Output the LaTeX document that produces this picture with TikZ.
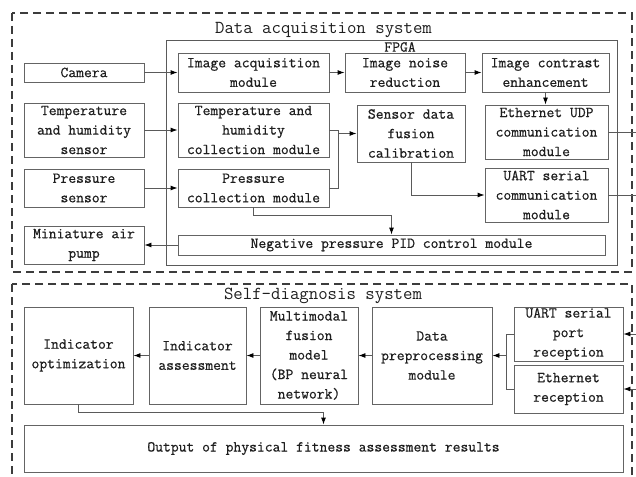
\documentclass[tikz,border=0pt]{standalone}
\usepackage{fontspec}
\usepackage{tikz}
\usepackage{xcolor}
\usetikzlibrary{arrows.meta, positioning, calc}
\newfontfamily\diagfont[FakeBold=0.6]{Latin Modern Mono}
\newfontfamily\titlefont{Latin Modern Mono}
\definecolor{frameGray}{RGB}{100,100,100}
\definecolor{lineGray}{RGB}{90,90,90}
\definecolor{dashGray}{RGB}{60,60,60}
\definecolor{darkText}{RGB}{30,30,30}
\tikzset{
    modbox/.style={
        rectangle,
        draw=frameGray,
        line width=0.9pt,
        align=center,
        inner sep=0pt,
        text=darkText,
        font=\diagfont\fontsize{15.2}{19.5}\selectfont
    },
    sysframe/.style={draw=dashGray, line width=1.1pt, dash pattern=on 8pt off 5pt},
    flowarrow/.style={-{Latex[length=7pt,width=5pt,color=black]}, line width=0.9pt, draw=lineGray},
    plainline/.style={line width=0.9pt, draw=lineGray},
    systitle/.style={text=darkText, font=\titlefont\fontsize{18.3}{20}\selectfont}
}

\begin{document}
\begin{tikzpicture}[x=1pt,y=-1pt]
    \useasboundingbox (0,0) rectangle (636,476);
    \fill[white] (0,0) rectangle (636,476);

    % data acquisition part
    \draw[sysframe] (12,13) rectangle (632,272);
    \node[systitle] (acqtitle) at (323.5,29.5) {Data acquisition system};
    \draw[plainline] (166,40) rectangle (617,265);
    \node[modbox, draw=none, fill=none] (fpga) at (400,47) {FPGA};

    \node[modbox, minimum width=120, minimum height=19] (camera) at (84,72.5) {Camera};
    \node[modbox, minimum width=120, minimum height=54] (thsensor) at (84,130) {Temperature\\and humidity\\sensor};
    \node[modbox, minimum width=120, minimum height=38] (psensor) at (84,188) {Pressure\\sensor};
    \node[modbox, minimum width=120, minimum height=38] (pump) at (84,245) {Miniature air\\pump};

    \node[modbox, minimum width=151, minimum height=39] (imgacq) at (253.5,72.5) {Image acquisition\\module};
    \node[modbox, minimum width=151, minimum height=54] (thcoll) at (253.5,130) {Temperature and\\humidity\\collection module};
    \node[modbox, minimum width=151, minimum height=38] (pcoll) at (253.5,188) {Pressure\\collection module};
    \node[modbox, minimum width=427, minimum height=20] (pid) at (391.5,245) {Negative pressure PID control module};

    \node[modbox, minimum width=120, minimum height=39] (noise) at (405,72.5) {Image noise\\reduction};
    \node[modbox, minimum width=108, minimum height=57] (fusion) at (411,133.5) {Sensor data\\fusion\\calibration};

    \node[modbox, minimum width=127, minimum height=39] (contrast) at (545.5,72.5) {Image contrast\\enhancement};
    \node[modbox, minimum width=123, minimum height=54] (udp) at (546.5,132) {Ethernet UDP\\communication\\module};
    \node[modbox, minimum width=123, minimum height=54] (uart) at (546.5,195) {UART serial\\communication\\module};

    \coordinate (rim) at (636,0);
    \coordinate (join) at (338,0);

    \draw[flowarrow] (camera.east) -- (camera.east -| imgacq.west);
    \draw[flowarrow] (thsensor.east) -- (thsensor.east -| thcoll.west);
    \draw[flowarrow] (psensor.east) -- (psensor.east -| pcoll.west);
    \draw[flowarrow] (pid.west) -- (pid.west -| pump.east);
    \draw[flowarrow] (imgacq.east) -- (imgacq.east -| noise.west);
    \draw[flowarrow] (noise.east) -- (noise.east -| contrast.west);
    \draw[flowarrow] (contrast.south) -- (contrast.south |- udp.north);
    \draw[plainline] (thcoll.east) -- (thcoll.east -| join) -- (pcoll.east -| join) -- (pcoll.east);
    \draw[flowarrow] (fusion.west -| join) -- (fusion.west);
    \draw[flowarrow] (fusion.south) |- (uart.west);
    \draw[flowarrow] (pcoll.south) -- ++(0,8) -| (pid.north);
    \draw[plainline] (udp.east) -- (udp.east -| rim);
    \draw[plainline] (uart.east) -- (uart.east -| rim);

    % self-diagnosis part
    \draw[sysframe] (12,284) rectangle (632,492);
    \node[systitle] (diagtitle) at (323,296) {Self-diagnosis system};

    \node[modbox, minimum width=109, minimum height=97] (optim) at (78.5,355.5) {Indicator\\optimization};
    \node[modbox, minimum width=97, minimum height=97] (assess) at (197.5,355.5) {Indicator\\assessment};
    \node[modbox, minimum width=98, minimum height=97] (bpmodel) at (309,355.5) {Multimodal\\fusion\\model\\(BP neural\\network)};
    \node[modbox, minimum width=120, minimum height=97] (prep) at (432,355.5) {Data\\preprocessing\\module};
    \node[modbox, minimum width=109, minimum height=54] (uartrx) at (568.5,334) {UART serial\\port\\reception};
    \node[modbox, minimum width=109, minimum height=48] (ethrx) at (568.5,389) {Ethernet\\reception};
    \node[modbox, minimum width=599, minimum height=47] (result) at (323.5,448.5) {Output of physical fitness assessment results};

    \coordinate (merge) at (506,0);

    \draw[flowarrow] (uartrx.east -| rim) -- (uartrx.east);
    \draw[flowarrow] (ethrx.east -| rim) -- (ethrx.east);
    \draw[plainline] (uartrx.west) -- (uartrx.west -| merge) -- (ethrx.west -| merge) -- (ethrx.west);
    \draw[flowarrow] (prep.east -| merge) -- (prep.east);
    \draw[flowarrow] (prep.west) -- (bpmodel.east);
    \draw[flowarrow] (bpmodel.west) -- (assess.east);
    \draw[flowarrow] (assess.west) -- (optim.east);
    \draw[flowarrow] (optim.south) -- ++(0,8) -| (result.north);
\end{tikzpicture}
\end{document}
